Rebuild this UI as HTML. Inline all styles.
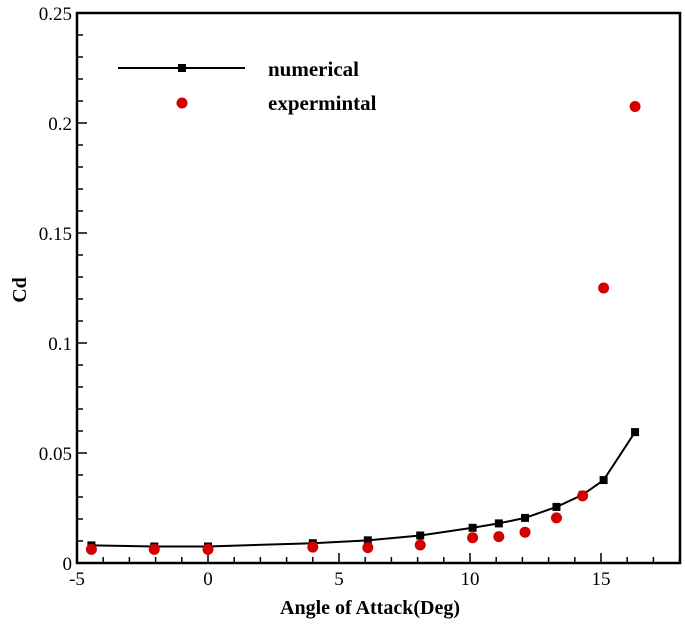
<!DOCTYPE html>
<html><head><meta charset="utf-8"><style>
body{margin:0;background:#fff;}
svg text{font-family:"Liberation Serif",serif;fill:#000;}
</style></head><body>
<svg width="685" height="626" xmlns="http://www.w3.org/2000/svg">
<g id="axes"></g><g id="marks"></g>
<g>
<line x1="118" y1="68" x2="245" y2="68" stroke="#000" stroke-width="2"/>
<rect x="178" y="64" width="8" height="8" fill="#000"/>
<text x="268" y="76" font-size="21" font-weight="bold">numerical</text>
<circle cx="182" cy="103" r="5.5" fill="#d40000"/>
<text x="268" y="110" font-size="21" font-weight="bold">expermintal</text>
</g>
<text x="370" y="614" font-size="20" font-weight="bold" text-anchor="middle">Angle of Attack(Deg)</text>
<text transform="translate(26,290) rotate(-90)" font-size="20" font-weight="bold" text-anchor="middle">Cd</text>
</svg>
<script>
const numX=[-4.45,-2.05,0,4,6.1,8.1,10.1,11.1,12.1,13.3,14.3,15.1,16.3];
const numY=[0.008,0.0075,0.0075,0.009,0.0103,0.0125,0.016,0.018,0.0205,0.0255,0.031,0.0377,0.0595];
const expX=[-4.45,-2.05,0,4,6.1,8.1,10.1,11.1,12.1,13.3,14.3,15.1,16.3];
const expY=[0.0062,0.0062,0.0062,0.0072,0.007,0.0082,0.0115,0.012,0.014,0.0205,0.0305,0.125,0.2075];
const xTicks=[-5,0,5,10,15];
const yTicks=[0,0.05,0.1,0.15,0.2,0.25];
const yLabels=["0","0.05","0.1","0.15","0.2","0.25"];
const NS="http://www.w3.org/2000/svg";
const L=77,R=680,T=13,B=563;
function sx(v){return 208+v*26.2;}
function sy(v){return B-v*(B-T)/0.25;}
function mk(t,a,p){const e=document.createElementNS(NS,t);for(const k in a)e.setAttribute(k,a[k]);p.appendChild(e);return e;}
const ax=document.getElementById('axes'),mg=document.getElementById('marks');
const fr=mk('rect',{x:L,y:T,width:R-L,height:B-T,fill:'none',stroke:'#000','stroke-width':2.5},ax);


for(let v=-5;v<=18;v++){const big=v%5===0;const t=mk('line',{x1:sx(v),x2:sx(v),y1:B,y2:B-(big?10:6),stroke:'#000','stroke-width':1.5},ax);

}
for(let i=0;i<=25;i++){const v=i*0.01;const big=i%5===0;const t=mk('line',{x1:L,x2:L+(big?10:6),y1:sy(v),y2:sy(v),stroke:'#000','stroke-width':1.5},ax);

}
xTicks.forEach(v=>{const t=mk('text',{x:sx(v),y:585,'font-size':19,'text-anchor':'middle'},ax);t.textContent=String(v);

});
yTicks.forEach((v,i)=>{const t=mk('text',{x:L-5,y:sy(v)+7,'font-size':19,'text-anchor':'end'},ax);t.textContent=yLabels[i];

});
const ln=mk('polyline',{points:numX.map((x,i)=>sx(x)+','+sy(numY[i])).join(' '),fill:'none',stroke:'#000','stroke-width':2},mg);


numX.forEach((x,i)=>{const r=mk('rect',{x:sx(x)-4,y:sy(numY[i])-4,width:8,height:8,fill:'#000'},mg);

});
expX.forEach((x,i)=>{const c=mk('circle',{cx:sx(x),cy:sy(expY[i]),r:5.5,fill:'#d40000'},mg);

});
</script>
</body></html>
